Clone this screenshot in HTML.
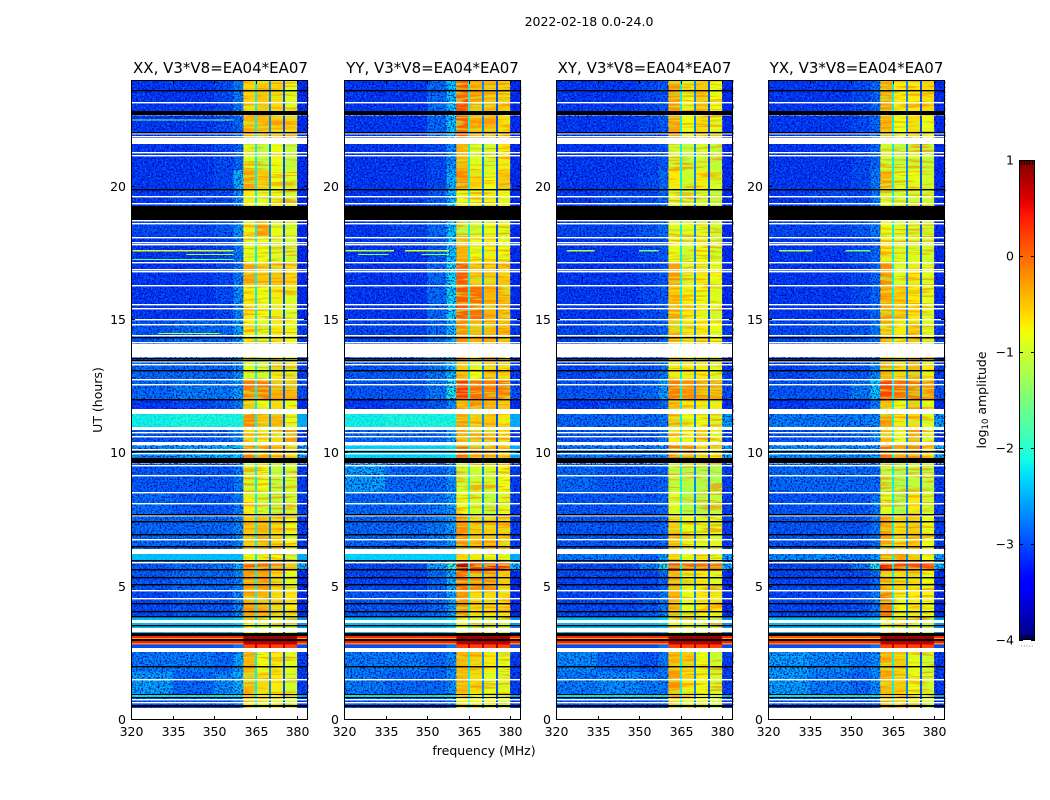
<!DOCTYPE html>
<html lang="en">
<head>
<meta charset="utf-8">
<title>2022-02-18 0.0-24.0</title>
<style>
html,body{margin:0;padding:0;background:#fff;width:1050px;height:800px;overflow:hidden}
svg{display:block}
text{font-family:"DejaVu Sans","Liberation Sans",sans-serif;fill:#000}
.tick{font-size:12.5px}
.title{font-size:15px}
.label{font-size:12.5px}
</style>
</head>
<body>
<svg id="figure" xmlns="http://www.w3.org/2000/svg" width="1050" height="800" viewBox="0 0 1050 800">
  <defs>
    <linearGradient id="cbar-gradient" x1="0" y1="1" x2="0" y2="0"></linearGradient>
    <filter id="speckle-dark" x="0" y="0" width="1" height="1" color-interpolation-filters="sRGB">
      <feTurbulence type="fractalNoise" baseFrequency="0.55 0.62" numOctaves="2" seed="3"/>
      <feColorMatrix values="0 0 0 0 0  0 0 0 0 0  0 0 0 0 0.62  5.5 0 0 0 -2.55"/>
    </filter>
    <filter id="speckle-light" x="0" y="0" width="1" height="1" color-interpolation-filters="sRGB">
      <feTurbulence type="fractalNoise" baseFrequency="0.6 0.55" numOctaves="2" seed="11"/>
      <feColorMatrix values="0 0 0 0 0  0 0 0 0 0.58  0 0 0 0 1  0 5.5 0 0 -2.85"/>
    </filter>
    <filter id="streak-warm" x="0" y="0" width="1" height="1" color-interpolation-filters="sRGB">
      <feTurbulence type="fractalNoise" baseFrequency="0.03 0.42" numOctaves="2" seed="5"/>
      <feColorMatrix values="0 0 0 0 1  0 0 0 0 0.5  0 0 0 0 0  7 0 0 0 -3.5"/>
    </filter>
    <filter id="streak-cool" x="0" y="0" width="1" height="1" color-interpolation-filters="sRGB">
      <feTurbulence type="fractalNoise" baseFrequency="0.03 0.42" numOctaves="2" seed="17"/>
      <feColorMatrix values="0 0 0 0 0.75  0 0 0 0 1  0 0 0 0 0.2  0 7 0 0 -3.5"/>
    </filter>
  </defs>

  <text class="tick" x="589" y="26" text-anchor="middle">2022-02-18 0.0-24.0</text>
  <text class="title" x="220.5" y="73" text-anchor="middle">XX, V3*V8=EA04*EA07</text>
  <text class="title" x="432.5" y="73" text-anchor="middle">YY, V3*V8=EA04*EA07</text>
  <text class="title" x="644.5" y="73" text-anchor="middle">XY, V3*V8=EA04*EA07</text>
  <text class="title" x="856.5" y="73" text-anchor="middle">YX, V3*V8=EA04*EA07</text>
  <text class="label" transform="translate(102,400) rotate(-90)" text-anchor="middle">UT (hours)</text>
  <text class="label" x="484" y="755" text-anchor="middle">frequency (MHz)</text>
  <text class="label" transform="translate(986,400) rotate(-90)" text-anchor="middle">log<tspan font-size="8.5px" dy="2">10</tspan><tspan dy="-2"> amplitude</tspan></text>
</svg>

<script>
// ---- axis tick labels ----
const freqTicks = [320, 335, 350, 365, 380];
const utTicks = [0, 5, 10, 15, 20];
const cbarTicks = [1, 0, -1, -2, -3, -4];

// ---- frequency channels (MHz) and the level column each one reads ----
const lowChannels = [[320, 335], [335, 350], [350, 357], [357, 360.6]];
const bandChannels = [[360.6, 364.8], [365.6, 369.8], [370.6, 374.9], [375.7, 380]];
const gapChannels = [[364.8, 365.6], [369.8, 370.6], [374.9, 375.7]];
const edgeChannel = [380, 384];
const gapLevels = [-2.2, -2.7, -3.0];
const calGapLevel = 0.8;
const calBlocks = [24, 25, 26, 27, 28];

// ---- UT blocks (hours) ----
const utBlocks = [[24,22.82],[22.67,21.6],[21.6,20.63],[20.63,19.88],[19.88,19.28],[18.75,18.15],[18.15,17.18],[17.18,16.28],[16.28,15],[15,14.1],[13.6,12.75],[12.75,12.04],[12.04,11.48],[11.48,10.99],[10.88,10.43],[10.3,9.83],[9.62,8.55],[8.55,7.65],[7.65,6.41],[6.23,5.93],[5.93,5.59],[5.59,4.88],[4.88,3.9],[3.9,3.27],[3.15,3.08],[3.08,3.02],[2.96,2.89],[2.89,2.83],[2.83,2.7],[2.55,1.8],[1.8,0.98],[0.98,0.86],[0.86,0.45]];
const edgeLevels = [-3.1,-3.1,-3.1,-3.1,-3.1,-3.1,-3.1,-3.1,-3.1,-3.0,-3.0,-2.9,-3.1,-2.5,-3.0,-2.5,-3.0,-3.0,-3.0,-2.5,-2.4,-3.1,-3.1,-2.6,0.35,-0.3,0.4,-0.2,-3.0,-3.0,-3.0,-2.5,-3.0];

// ---- log10 amplitude per block: four low channels, then four band channels ----
const xxLevels = [
[-3.1,-3.1,-3.0,-2.7,-0.6,-0.5,-0.6,-0.9],[-3.1,-3.1,-3.0,-2.8,-0.4,-0.4,-0.5,-0.5],[-3.1,-3.1,-3.0,-2.8,-0.9,-1.1,-0.8,-1.1],[-3.1,-3.1,-3.0,-2.4,-0.3,-0.5,-0.8,-0.9],
[-3.1,-3.0,-3.0,-2.6,-0.7,-0.9,-0.8,-1.0],[-3.0,-3.0,-2.9,-2.6,-0.7,-0.3,-0.8,-0.9],[-3.1,-3.1,-3.0,-2.7,-0.9,-0.8,-0.9,-1.0],[-3.1,-3.1,-3.0,-2.7,-0.3,-0.5,-0.5,-0.6],
[-3.1,-3.1,-3.0,-2.6,-0.7,-0.8,-0.7,-0.9],[-2.9,-2.8,-2.8,-2.5,-0.7,-0.9,-0.7,-0.8],[-2.8,-2.8,-2.8,-2.6,-0.9,-1.0,-0.7,-0.8],[-2.8,-2.7,-2.7,-2.5,-0.1,-0.1,-0.4,-0.4],
[-3.1,-3.0,-2.9,-2.7,-0.6,-0.8,-0.6,-0.8],[-2.15,-2.1,-2.1,-2.1,-0.2,-0.5,-0.4,-0.8],[-2.9,-2.9,-2.8,-2.6,-0.6,-0.7,-0.6,-0.3],[-2.6,-2.5,-2.4,-2.3,-0.1,-0.3,-0.5,-0.6],
[-2.9,-2.9,-2.9,-2.7,-1.0,-0.8,-1.1,-1.0],[-2.8,-2.9,-2.9,-2.7,-0.7,-1.0,-1.1,-1.0],[-2.8,-2.8,-2.8,-2.6,-0.5,-0.4,-0.6,-0.8],[-2.4,-2.4,-2.4,-2.4,-0.7,-0.7,-0.8,-1.0],
[-2.9,-2.8,-2.7,-2.4,0.1,0.0,-0.2,-0.5],[-2.9,-2.8,-2.8,-2.6,-0.3,-0.3,-0.6,-0.9],[-3.0,-2.9,-2.9,-2.6,-0.3,-0.4,-0.6,-0.7],[-2.4,-2.4,-2.4,-2.3,-0.8,-0.9,-0.9,-1.1],
[0.35,0.35,0.35,0.35,0.85,0.85,0.85,0.85],[-0.3,-0.3,-0.3,-0.3,0.9,0.9,0.9,0.9],[0.4,0.4,0.4,0.4,0.8,0.8,0.8,0.8],[-0.2,-0.2,-0.2,-0.2,0.7,0.7,0.7,0.7],[-3.0,-3.0,-3.0,-2.8,0.2,0.2,0.2,0.2],
[-2.7,-2.7,-2.8,-2.5,-0.4,-0.8,-0.7,-0.9],[-2.5,-2.8,-2.6,-2.4,-0.4,-0.6,-0.7,-1.0],[-2.2,-2.2,-2.2,-2.2,-0.5,-0.7,-0.8,-1.0],[-2.9,-2.9,-2.9,-2.7,-0.7,-0.8,-0.8,-1.0]];

const yyLevels = [
[-3.1,-3.1,-2.8,-2.3,0.15,-0.3,-0.4,-0.5],[-3.1,-3.1,-2.8,-2.3,0.1,-0.4,-0.4,-0.6],[-3.1,-3.1,-3.0,-2.6,-0.4,-0.9,-1.0,-0.7],[-3.1,-3.1,-3.0,-2.4,-0.2,-0.6,-0.8,-0.5],
[-3.1,-3.1,-2.9,-2.3,-0.8,-0.8,-0.8,-0.8],[-3.1,-3.0,-2.8,-2.3,-1.1,-1.0,-0.8,-0.9],[-3.1,-3.1,-2.9,-2.3,-0.4,-0.8,-0.7,-0.8],[-3.1,-3.1,-2.8,-2.2,0.1,-0.5,-0.5,-0.5],
[-3.1,-3.1,-2.8,-2.2,0.1,0.0,-0.4,-0.4],[-3.0,-3.0,-2.8,-2.4,-0.2,-0.4,-0.4,-0.4],[-2.9,-2.9,-2.7,-2.3,-0.5,-0.8,-0.5,-0.6],[-2.9,-2.9,-2.7,-2.1,0.3,0.0,-0.1,-0.1],
[-3.1,-3.0,-2.9,-2.6,-0.4,-0.3,-0.4,-0.5],[-2.15,-2.1,-2.1,-2.1,-0.3,-0.5,-0.5,-0.7],[-2.8,-2.8,-2.8,-2.5,-0.4,-0.4,-0.4,-0.6],[-2.3,-2.3,-2.3,-2.2,0.0,-0.3,-0.3,-0.5],
[-2.5,-2.8,-2.8,-2.6,-1.0,-1.0,-1.0,-0.8],[-2.8,-2.8,-2.7,-2.5,-0.8,-1.0,-1.1,-0.9],[-2.8,-2.8,-2.7,-2.5,-0.2,-0.5,-0.5,-0.5],[-2.3,-2.3,-2.3,-2.3,-0.6,-0.7,-0.8,-0.9],
[-3.0,-3.0,-2.5,-1.9,0.75,0.45,0.4,0.35],[-3.0,-3.0,-2.8,-2.4,0.0,-0.2,-0.2,-0.5],[-2.9,-2.9,-2.8,-2.5,-0.2,-0.6,-0.6,-0.6],[-2.4,-2.4,-2.4,-2.3,-0.8,-0.9,-0.9,-1.0],
[0.35,0.35,0.35,0.35,0.85,0.85,0.85,0.85],[-0.3,-0.3,-0.3,-0.3,0.9,0.9,0.9,0.9],[0.4,0.4,0.4,0.4,0.8,0.8,0.8,0.8],[-0.2,-0.2,-0.2,-0.2,0.7,0.7,0.7,0.7],[-3.0,-3.0,-3.0,-2.8,0.2,0.2,0.2,0.2],
[-2.7,-2.7,-2.8,-2.6,-0.4,-0.5,-0.7,-0.9],[-2.7,-2.8,-2.8,-2.6,-0.4,-0.6,-0.9,-0.9],[-2.2,-2.2,-2.2,-2.2,-0.7,-0.8,-0.8,-1.0],[-2.9,-2.9,-2.9,-2.7,-0.7,-0.8,-0.8,-1.0]];

const xyLevels = [
[-3.1,-3.1,-3.0,-2.9,-0.3,-0.8,-0.5,-0.8],[-3.1,-3.1,-3.0,-2.9,-0.3,-0.8,-0.6,-0.8],[-3.1,-3.1,-3.0,-2.9,-1.0,-1.1,-1.0,-1.1],[-3.1,-3.1,-3.0,-2.8,-0.7,-1.0,-0.7,-0.9],
[-3.1,-3.0,-3.0,-2.8,-0.9,-1.0,-1.0,-1.1],[-3.0,-3.0,-2.9,-2.8,-0.9,-0.9,-0.9,-1.0],[-3.1,-3.1,-3.0,-2.9,-0.8,-1.0,-0.8,-1.0],[-3.1,-3.1,-3.0,-2.9,-0.3,-0.9,-0.7,-0.8],
[-3.1,-3.1,-3.0,-2.9,-0.5,-0.7,-0.8,-0.9],[-3.0,-2.9,-2.9,-2.8,-0.5,-0.7,-0.7,-0.8],[-3.0,-2.9,-2.9,-2.7,-0.7,-0.7,-0.7,-0.9],[-2.9,-2.9,-2.8,-2.5,-0.1,-0.2,-0.3,-0.3],
[-3.1,-3.0,-3.0,-2.8,-0.5,-0.7,-0.7,-0.7],[-2.8,-2.8,-2.8,-2.7,-0.5,-0.8,-0.8,-0.9],[-2.9,-2.9,-2.9,-2.7,-0.7,-0.8,-0.5,-0.8],[-2.7,-2.7,-2.7,-2.6,-0.1,-0.2,-0.6,-0.7],
[-2.8,-2.9,-2.9,-2.8,-1.1,-1.2,-1.2,-1.2],[-2.9,-2.9,-2.9,-2.8,-0.9,-1.2,-1.2,-1.1],[-2.9,-2.9,-2.9,-2.8,-0.5,-0.8,-0.9,-0.9],[-2.7,-2.7,-2.8,-2.5,-0.6,-0.8,-0.7,-0.9],
[-3.0,-3.0,-2.7,-2.1,0.4,0.1,0.0,0.0],[-3.0,-3.0,-3.0,-2.8,-0.4,-0.8,-0.7,-0.9],[-3.0,-3.0,-2.9,-2.7,-0.4,-0.8,-0.7,-0.7],[-2.4,-2.4,-2.4,-2.3,-0.8,-0.9,-1.0,-1.1],
[0.35,0.35,0.35,0.35,0.85,0.85,0.85,0.85],[-0.3,-0.3,-0.3,-0.3,0.9,0.9,0.9,0.9],[0.4,0.4,0.4,0.4,0.8,0.8,0.8,0.8],[-0.2,-0.2,-0.2,-0.2,0.7,0.7,0.7,0.7],[-3.0,-3.0,-3.0,-2.8,0.2,0.2,0.2,0.2],
[-2.6,-2.8,-2.9,-2.7,-0.4,-0.5,-0.8,-1.0],[-2.7,-2.6,-2.7,-2.7,-0.3,-0.7,-0.8,-1.0],[-2.2,-2.2,-2.2,-2.2,-0.5,-0.7,-0.9,-1.0],[-2.9,-2.9,-2.9,-2.8,-0.5,-0.7,-0.8,-1.0]];

const yxLevels = [
[-3.1,-3.1,-3.0,-2.8,-0.3,-0.7,-0.7,-0.6],[-3.1,-3.1,-3.0,-2.8,-0.4,-0.8,-0.6,-0.8],[-3.1,-3.1,-3.0,-2.8,-1.0,-1.1,-1.0,-1.1],[-3.1,-3.1,-3.0,-2.7,-0.4,-0.9,-0.8,-1.0],
[-3.1,-3.0,-3.0,-2.7,-0.9,-1.0,-1.0,-1.0],[-3.0,-3.0,-2.9,-2.7,-0.8,-0.9,-0.9,-1.0],[-3.1,-3.1,-3.0,-2.8,-0.7,-0.9,-0.9,-1.0],[-3.1,-3.1,-3.0,-2.8,-0.2,-0.9,-0.7,-0.9],
[-3.1,-3.1,-3.0,-2.8,-0.3,-0.5,-0.7,-0.9],[-3.0,-2.9,-2.9,-2.7,-0.5,-0.7,-0.5,-0.9],[-3.0,-2.9,-2.9,-2.6,-0.4,-0.6,-0.4,-0.7],[-2.9,-2.9,-2.7,-2.3,0.2,0.0,0.0,-0.2],
[-3.1,-3.0,-3.0,-2.7,-0.5,-0.8,-0.4,-0.8],[-2.7,-2.7,-2.7,-2.6,-0.3,-0.7,-0.6,-0.9],[-2.9,-2.9,-2.8,-2.6,-0.5,-0.8,-0.4,-0.9],[-2.6,-2.6,-2.6,-2.5,0.0,-0.3,-0.2,-0.5],
[-2.8,-2.8,-2.8,-2.8,-1.1,-1.2,-1.1,-1.1],[-2.9,-2.9,-2.9,-2.7,-0.9,-1.2,-0.7,-1.0],[-2.9,-2.9,-2.9,-2.7,-0.3,-0.6,-0.5,-0.8],[-2.6,-2.6,-2.7,-2.5,-0.3,-0.3,-0.5,-0.8],
[-3.0,-3.0,-2.7,-2.1,0.4,0.15,0.15,0.1],[-3.0,-3.0,-3.0,-2.8,-0.5,-0.6,-0.6,-0.8],[-3.0,-3.0,-2.9,-2.7,-0.1,-0.8,-0.7,-0.8],[-2.4,-2.4,-2.4,-2.3,-0.8,-0.9,-0.9,-1.1],
[0.1,0.1,0.1,0.1,0.85,0.85,0.85,0.85],[-0.5,-0.5,-0.5,-0.5,0.9,0.9,0.9,0.9],[0.35,0.35,0.35,0.35,0.8,0.8,0.8,0.8],[-0.2,-0.2,-0.2,-0.2,0.7,0.7,0.7,0.7],[-3.0,-3.0,-3.0,-2.8,0.2,0.2,0.2,0.2],
[-2.5,-2.6,-2.7,-2.6,-0.4,-0.5,-0.8,-1.0],[-2.5,-2.7,-2.8,-2.6,-0.4,-0.5,-0.8,-1.0],[-2.2,-2.2,-2.2,-2.2,-0.5,-0.6,-0.9,-1.0],[-2.9,-2.9,-2.9,-2.8,-0.4,-0.6,-0.9,-1.0]];

const panelLevels = [xxLevels, yyLevels, xyLevels, yxLevels];
const panelNames = ['xx', 'yy', 'xy', 'yx'];
const panelLefts = [131, 344, 556, 768];

// ---- flagged data (UT hours): blank is white, zero amplitude is black ----
const whiteLines = [23.14,21.98,21.86,21.27,21.18,19.62,19.38,18.71,18.60,18.08,17.90,17.81,17.14,16.88,16.83,16.28,15.57,15.41,15.01,14.84,14.40,14.15,13.44,13.34,12.78,12.59,10.77,10.62,10.13,9.98,9.53,9.15,8.54,8.13,7.65,6.78,5.90,4.85,4.56,3.54,3.34,1.53,0.77,0.66];
const whiteBands = [[21.81,21.60],[14.10,13.60],[11.66,11.48],[10.99,10.88],[10.43,10.30],[9.75,9.62],[6.41,6.23],[3.75,3.63],[3.45,3.30],[2.70,2.55],[0.45,0]];
const blackLines = [23.60,22.02,19.88,14.33,13.55,13.46,13.11,12.03,10.05,7.69,7.43,6.96,6.50,5.99,5.65,5.35,5.09,4.38,4.06,3.88,3.53,2.01];
const blackBands = [[22.82,22.67],[19.28,18.75],[9.83,9.65],[3.27,3.15],[3.02,2.96],[0.99,0.95],[0.87,0.83],[0.58,0.49]];
const flagLineHours = 0.045;

// ---- narrowband interference: panel, UT, start MHz, end MHz, level ----
const rfiLines = [
[0,17.60,320.5,357,-1.0],[0,17.46,340,357,-1.3],[0,17.27,320.5,357,-1.6],[0,22.50,320.5,357,-1.5],[0,14.49,330,352,-1.3],
[1,17.60,320.5,338,-1.1],[1,17.60,342,358,-1.0],[1,17.46,325,336,-1.5],[1,17.46,348,358,-1.5],
[2,17.60,324,334,-1.2],[2,17.60,350,357,-1.6],
[3,17.60,324,336,-1.3],[3,17.60,348,357,-1.6]];

// ---- axis functions ----
const AX_W = 177, AX_TOP = 80, AX_BOTTOM = 720;
const CB_X = 1019, CB_W = 16, CB_TOP = 160, CB_BOTTOM = 640;
function xScale(left, mhz) { return left + (mhz - 320) * 2.767; }
function yScale(ut) { return AX_BOTTOM - (ut / 24) * (AX_BOTTOM - AX_TOP); }
function cbarY(v) { return CB_BOTTOM - ((v + 4) / 5) * (CB_BOTTOM - CB_TOP); }
function clip01(v) { return Math.max(0, Math.min(1, v)); }
function jet(level) {
  const t = clip01((level + 4) / 5);
  const r = clip01(t < 0.35 ? 0 : t < 0.66 ? (t - 0.35) / 0.31 : t < 0.89 ? 1 : 1 - (t - 0.89) / 0.11 * 0.5);
  const g = clip01(t < 0.125 ? 0 : t < 0.375 ? (t - 0.125) / 0.25 : t < 0.64 ? 1 : t < 0.91 ? 1 - (t - 0.64) / 0.27 : 0);
  const b = clip01(t < 0.11 ? 0.5 + t / 0.11 * 0.5 : t < 0.34 ? 1 : t < 0.65 ? 1 - (t - 0.34) / 0.31 : 0);
  return 'rgb(' + Math.round(r * 255) + ',' + Math.round(g * 255) + ',' + Math.round(b * 255) + ')';
}

const NS = 'http://www.w3.org/2000/svg';
const fig = document.getElementById('figure');
function rect(parent, x, y, w, h, fill) {
  const el = document.createElementNS(NS, 'rect');
  el.setAttribute('x', x);
  el.setAttribute('y', y);
  el.setAttribute('width', w);
  el.setAttribute('height', h);
  el.setAttribute('fill', fill);
  parent.appendChild(el);
  return el;
}
function line(parent, x1, y1, x2, y2) {
  const el = document.createElementNS(NS, 'line');
  el.setAttribute('x1', x1);
  el.setAttribute('y1', y1);
  el.setAttribute('x2', x2);
  el.setAttribute('y2', y2);
  el.setAttribute('stroke', '#000');
  el.setAttribute('stroke-width', '1');
  
  
  parent.appendChild(el);
  return el;
}
function label(parent, x, y, anchor, str) {
  const el = document.createElementNS(NS, 'text');
  el.setAttribute('class', 'tick');
  el.setAttribute('x', x);
  el.setAttribute('y', y);
  el.setAttribute('text-anchor', anchor);
  el.textContent = str;
  
  
  parent.appendChild(el);
  return el;
}
function cell(group, left, from, to, start, end, level) {
  const x0 = xScale(left, from), x1 = xScale(left, to);
  const y0 = yScale(start), y1 = yScale(end);
  const el = rect(group, x0, y0, x1 - x0, y1 - y0, jet(level));
  el.setAttribute('shape-rendering', 'crispEdges');
  
  
}
function overlay(group, left, from, to, start, end, filterId, opacity) {
  const x0 = xScale(left, from), x1 = xScale(left, Math.min(to, 384));
  const el = rect(group, x0, yScale(start), x1 - x0, yScale(end) - yScale(start), '#000');
  el.setAttribute('filter', 'url(#' + filterId + ')');
  el.setAttribute('opacity', opacity);
  
  
}
function flagBand(group, left, start, end, fill, name) {
  const y0 = Math.round(yScale(start)), y1 = Math.round(yScale(end));
  const el = rect(group, left, y0, AX_W, y1 - y0, fill);
  
  
}
function flagLine(group, left, ut, fill, name) {
  const y0 = Math.round(yScale(ut + flagLineHours / 2));
  const el = rect(group, left, y0, AX_W, 1.4, fill);
  
  
}

panelLevels.forEach(function (levels, p) {
  const left = panelLefts[p];
  const g = document.createElementNS(NS, 'g');
  
  
  fig.appendChild(g);

  utBlocks.forEach(function (block, b) {
    const row = levels[b];
    lowChannels.forEach(function (ch, i) { cell(g, left, ch[0], ch[1], block[0], block[1], row[i]); });
    bandChannels.forEach(function (ch, i) { cell(g, left, ch[0], ch[1], block[0], block[1], row[4 + i]); });
    cell(g, left, edgeChannel[0], edgeChannel[1], block[0], block[1], edgeLevels[b]);
  });

  // texture is strongest over quiet blocks and stays clear of the calibrator rows
  utBlocks.forEach(function (block, b) {
    if (calBlocks.indexOf(b) >= 0) { return; }
    const quiet = levels[b][0] < -2.45;
    overlay(g, left, 320, 360.6, block[0], block[1], 'speckle-dark', quiet ? 0.8 : 0.15);
    overlay(g, left, 320, 360.6, block[0], block[1], 'speckle-light', quiet ? 0.55 : 0.2);
    overlay(g, left, 380, 384, block[0], block[1], 'speckle-dark', quiet ? 0.8 : 0.15);
    overlay(g, left, 360.6, 380, block[0], block[1], 'streak-warm', 0.6);
    overlay(g, left, 360.6, 380, block[0], block[1], 'streak-cool', 0.6);
  });

  utBlocks.forEach(function (block, b) {
    gapChannels.forEach(function (ch, i) {
      cell(g, left, ch[0], ch[1], block[0], block[1], calBlocks.indexOf(b) >= 0 ? calGapLevel : gapLevels[i]);
    });
  });

  rfiLines.forEach(function (r) {
    if (r[0] === p) { cell(g, left, r[2], r[3], r[1] + flagLineHours / 2, r[1] - flagLineHours / 2, r[4]); }
  });

  whiteBands.forEach(function (f) { flagBand(g, left, f[0], f[1], '#fff', 'blank-flag-band'); });
  whiteLines.forEach(function (u) { flagLine(g, left, u, '#fff', 'blank-flag-line'); });
  blackBands.forEach(function (f) { flagBand(g, left, f[0], f[1], '#000', 'zero-flag-band'); });
  blackLines.forEach(function (u) { flagLine(g, left, u, '#000', 'zero-flag-line'); });

  // frame
  const frame = rect(g, left + 0.5, AX_TOP + 0.5, AX_W - 1, AX_BOTTOM - AX_TOP - 1, 'none');
  frame.setAttribute('stroke', '#000');
  frame.setAttribute('stroke-width', '1');
  
  

  // ticks
  freqTicks.forEach(function (t) {
    const x = Math.round(xScale(left, t)) + 0.5;
    line(g, x, AX_BOTTOM, x, AX_BOTTOM - 4);
    line(g, x, AX_TOP, x, AX_TOP + 4);
    label(g, x, 736, 'middle', String(t));
  });
  utTicks.forEach(function (t) {
    const y = Math.round(yScale(t)) - 0.5;
    line(g, left, y, left + 4, y);
    line(g, left + AX_W, y, left + AX_W - 4, y);
    label(g, left - 5, y + 4.5, 'end', String(t));
  });
});

// ---- colour bar ----
const grad = document.getElementById('cbar-gradient');
for (let i = 0; i <= 50; i++) {
  const s = document.createElementNS(NS, 'stop');
  s.setAttribute('offset', i / 50);
  s.setAttribute('stop-color', jet(-4 + 5 * i / 50));
  grad.appendChild(s);
}
const cb = document.createElementNS(NS, 'g');


fig.appendChild(cb);
const cbBody = rect(cb, CB_X + 0.5, CB_TOP + 0.5, CB_W - 1, CB_BOTTOM - CB_TOP - 1, 'url(#cbar-gradient)');
cbBody.setAttribute('stroke', '#000');
cbBody.setAttribute('stroke-width', '1');


cbarTicks.forEach(function (t) {
  const y = Math.round(cbarY(t)) + 0.5;
  line(cb, CB_X, y, CB_X + 4, y);
  line(cb, CB_X + CB_W, y, CB_X + CB_W - 4, y);
  label(cb, CB_X - 5, y + 4, 'end', String(t).replace('-', '\u2212'));
});
for (let i = 1; i <= 5; i++) {
  const x = CB_X + i * CB_W / 6;
  line(cb, x, CB_TOP, x, CB_TOP + 5);
  line(cb, x, CB_BOTTOM, x, CB_BOTTOM - 5);
  const dot = rect(cb, x - 0.5, CB_BOTTOM + 5.5, 1, 1, '#888');
  
  
}
</script>
</body>
</html>
